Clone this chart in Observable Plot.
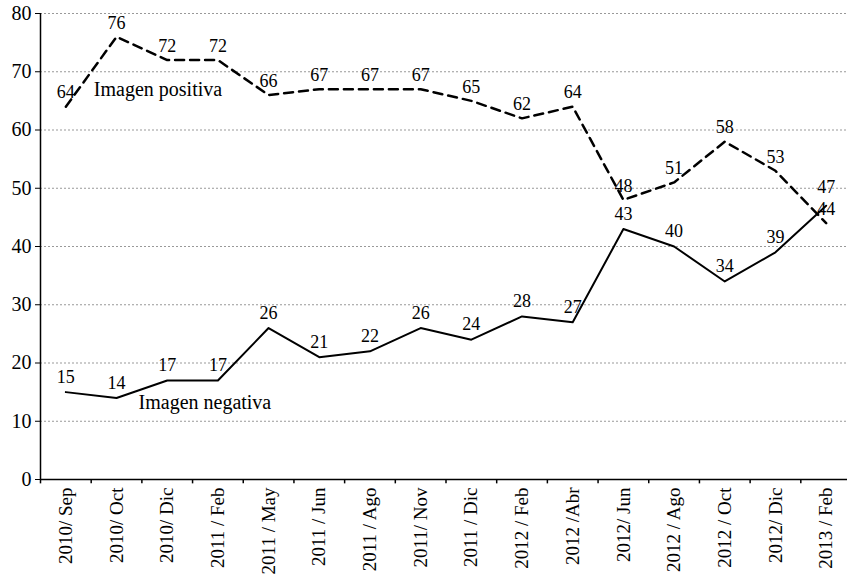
<!DOCTYPE html>
<html>
<head>
<meta charset="utf-8">
<script src="https://cdn.jsdelivr.net/npm/d3@7"></script>
<script src="https://cdn.jsdelivr.net/npm/@observablehq/plot@0.6"></script>
<style>
  html, body { margin: 0; padding: 0; background: #fff; }
  svg { font-family: "Liberation Serif", "DejaVu Serif", serif; }
</style>
</head>
<body>
<div id="chart"></div>
<script>
const categories = ["2010/ Sep","2010/ Oct","2010/ Dic","2011 / Feb","2011 / May","2011 / Jun","2011 / Ago","2011/ Nov","2011 / Dic","2012 / Feb","2012 /Abr","2012/ Jun","2012 / Ago","2012 / Oct","2012/ Dic","2013 / Feb"];
const positiva = [64,76,72,72,66,67,67,67,65,62,64,48,51,58,53,44];
const negativa = [15,14,17,17,26,21,22,26,24,28,27,43,40,34,39,47];
const yTicks = [0,10,20,30,40,50,60,70,80];
const seriesLabels = [
  {name: "Imagen positiva", cat: "2010/ Sep", v: 67},
  {name: "Imagen negativa", cat: "2010/ Oct", v: 13.2}
];

const pos = categories.map((c, i) => ({cat: c, v: positiva[i]}));
const neg = categories.map((c, i) => ({cat: c, v: negativa[i]}));
const lastIdx = categories.length - 1;

const xRange = [40, 851];
const band = (xRange[1] - xRange[0]) / categories.length;

const chart = Plot.plot({
  width: 847,
  height: 576,
  marginLeft: 40,
  marginTop: 13,
  marginBottom: 97,
  marginRight: 0,
  style: {fontFamily: "'Liberation Serif', 'DejaVu Serif', serif", fontSize: "19px", color: "#000", background: "#fff"},
  x: {type: "band", domain: categories, range: xRange, padding: 0, round: false},
  y: {domain: [0, 80], range: [479, 13]},
  marks: [
    Plot.gridY(yTicks.filter(d => d > 0), {stroke: "#999", strokeOpacity: 1, strokeDasharray: "2,2", strokeWidth: 1}),
    Plot.axisY(yTicks, {tickSize: 5, tickPadding: 4, fontSize: 20, label: null, stroke: "#000"}),
    Plot.axisX({tickSize: 0, tickPadding: 8, tickRotate: -90, fontSize: 19, label: null}),
    Plot.ruleX(categories, {x: d => d, y1: 0, y2: -0.75, dx: -band / 2, stroke: "#000", strokeWidth: 1.5}),
    Plot.ruleY([0], {stroke: "#000", strokeWidth: 1.5}),
    Plot.ruleX([categories[0]], {x: d => d, y1: 0, y2: 80, dx: -band / 2, stroke: "#000", strokeWidth: 1.5}),
    Plot.line(pos, {x: "cat", y: "v", stroke: "#000", strokeWidth: 2.5, strokeDasharray: "9,6"}),
    Plot.line(neg, {x: "cat", y: "v", stroke: "#000", strokeWidth: 2}),
    Plot.text(pos, {x: "cat", y: "v", text: d => String(d.v), dy: -14, fontSize: 18, fill: "#000"}),
    Plot.text(neg.slice(0, lastIdx), {x: "cat", y: "v", text: d => String(d.v), dy: -15, fontSize: 18, fill: "#000"}),
    Plot.text(neg.slice(lastIdx), {x: "cat", y: "v", text: d => String(d.v), dy: -18, fontSize: 18, fill: "#000"}),
    Plot.text(seriesLabels.slice(0, 1), {x: "cat", y: "v", text: "name", dx: 28, textAnchor: "start", fontSize: 20, fill: "#000"}),
    Plot.text(seriesLabels.slice(1), {x: "cat", y: "v", text: "name", dx: 22, textAnchor: "start", fontSize: 20, fill: "#000"})
  ]
});
document.getElementById("chart").appendChild(chart);
</script>
</body>
</html>
